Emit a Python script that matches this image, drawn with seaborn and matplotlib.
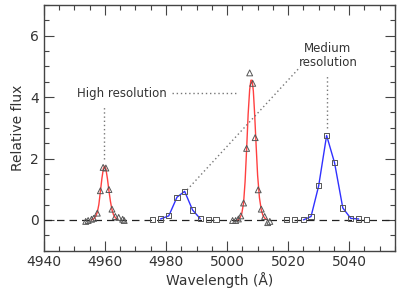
import numpy as np
import pandas as pd
import matplotlib
matplotlib.use("Agg")
import matplotlib.pyplot as plt
import seaborn as sns
from matplotlib.ticker import MultipleLocator

# High-resolution data points (triangles)
hi_wave = [4953.7, 4954.5, 4955.6, 4956.3, 4957.5, 4958.5, 4959.4, 4960.3, 4961.3, 4962.3,
           4963.4, 4964.5, 4965.8, 4966.3,
           5001.8, 5002.8, 5003.7, 5004.5, 5005.4, 5006.4, 5007.4, 5008.4, 5009.2, 5010.2,
           5011.2, 5012.3, 5013.3, 5014.0]
hi_flux = [-0.05, -0.02, 0.02, 0.05, 0.22, 0.95, 1.71, 1.69, 0.99, 0.35,
           0.11, 0.08, 0.02, -0.02,
           -0.02, -0.02, 0.03, 0.13, 0.55, 2.33, 4.79, 4.45, 2.68, 0.98,
           0.35, 0.11, -0.09, -0.05]

# High-resolution model curve (red)
hi_curve_wave_1 = [4955.5, 4956.3, 4957.0, 4957.5, 4958.0, 4958.5, 4959.0, 4959.5, 4959.9,
                   4960.3, 4960.8, 4961.3, 4961.8, 4962.3, 4962.8, 4963.4, 4964.2]
hi_curve_flux_1 = [0.0, 0.03, 0.12, 0.25, 0.5, 0.92, 1.35, 1.68, 1.75,
                   1.66, 1.35, 0.95, 0.6, 0.33, 0.17, 0.07, 0.01]
hi_curve_wave_2 = [5003.5, 5004.2, 5004.8, 5005.4, 5005.9, 5006.4, 5006.9, 5007.4, 5007.8,
                   5008.2, 5008.6, 5009.0, 5009.5, 5010.0, 5010.6, 5011.2, 5011.8, 5012.5, 5013.2]
hi_curve_flux_2 = [0.0, 0.06, 0.2, 0.55, 1.25, 2.3, 3.45, 4.25, 4.55,
                   4.55, 4.2, 3.5, 2.45, 1.45, 0.72, 0.32, 0.13, 0.04, 0.0]

# Medium-resolution data points (squares)
med_wave = [4975.6, 4978.2, 4980.9, 4983.6, 4986.1, 4988.7, 4991.2, 4993.8, 4996.4,
            5019.5, 5022.2, 5025.0, 5027.5, 5030.0, 5032.6, 5035.2, 5037.9, 5040.5, 5043.1, 5045.7]
med_flux = [0.0, 0.03, 0.13, 0.74, 0.93, 0.32, 0.04, 0.0, 0.0,
            0.0, 0.0, 0.0, 0.11, 1.11, 2.75, 1.86, 0.39, 0.05, 0.03, 0.0]

# Medium-resolution model lines (blue)
med_line_wave_1 = [4978.2, 4980.9, 4983.6, 4986.1, 4988.7, 4991.2]
med_line_flux_1 = [0.03, 0.13, 0.74, 0.93, 0.32, 0.04]
med_line_wave_2 = [5025.0, 5027.5, 5030.0, 5032.6, 5035.2, 5037.9, 5040.5, 5043.1]
med_line_flux_2 = [0.0, 0.11, 1.11, 2.75, 1.86, 0.39, 0.05, 0.03]

sns.set_theme(style="ticks")
plt.rcParams['font.family'] = ['DejaVu Sans']
txt = "#333333"

fig, ax = plt.subplots(figsize=(3.99, 2.99), dpi=100)
fig.subplots_adjust(left=0.110, right=0.990, bottom=0.162, top=0.983)

ax.axhline(0, color="#222222", lw=0.9, ls=(0, (6, 4)), zorder=1)

red = "#ff4040"
blue = "#3030ff"
sns.lineplot(x=hi_curve_wave_1, y=hi_curve_flux_1, ax=ax, color=red, lw=1.0, sort=False, zorder=2)
sns.lineplot(x=hi_curve_wave_2, y=hi_curve_flux_2, ax=ax, color=red, lw=1.0, sort=False, zorder=2)
sns.lineplot(x=med_line_wave_1, y=med_line_flux_1, ax=ax, color=blue, lw=1.0, sort=False, zorder=2)
sns.lineplot(x=med_line_wave_2, y=med_line_flux_2, ax=ax, color=blue, lw=1.0, sort=False, zorder=2)

ax.scatter(hi_wave, hi_flux, marker="^", s=18, facecolors="none", edgecolors="#555555", linewidths=0.7, zorder=3)
ax.scatter(med_wave, med_flux, marker="s", s=14, facecolors="none", edgecolors="#555555", linewidths=0.7, zorder=3)

# Annotations
dot = dict(color="#777777", lw=1.0, ls=(0, (1, 2)))
ax.plot([4959.7, 4959.7], [1.97, 3.75], **dot)
ax.plot([4982.0, 5003.0], [4.13, 4.13], **dot)
ax.plot([5032.7, 5032.7], [3.0, 4.75], **dot)
ax.plot([4986.9, 5023.9], [0.98, 4.98], **dot)
ax.text(4965.5, 4.13, "High resolution", ha="center", va="center", fontsize=8.5, color=txt)
ax.text(5033.0, 5.35, "Medium\nresolution", ha="center", va="center", fontsize=8.5, color=txt,
        linespacing=1.1)

ax.set_xlim(4940, 5055)
ax.set_ylim(-1, 7)
ax.xaxis.set_major_locator(MultipleLocator(20))
ax.xaxis.set_minor_locator(MultipleLocator(5))
ax.yaxis.set_major_locator(MultipleLocator(2))
ax.yaxis.set_minor_locator(MultipleLocator(0.5))
ax.tick_params(which="both", direction="in", top=True, right=True, colors="#444444",
               labelcolor=txt, labelsize=10)
ax.tick_params(which="major", length=7, width=0.8)
ax.tick_params(which="minor", length=3.5, width=0.8)
for s in ax.spines.values():
    s.set_color("#444444")
    s.set_linewidth(1.0)

ax.set_xlabel("Wavelength (Å)", fontsize=10, color=txt, labelpad=2)
ax.set_ylabel("Relative flux", fontsize=10, color=txt, labelpad=4)

fig.savefig("out.png", dpi=100)
